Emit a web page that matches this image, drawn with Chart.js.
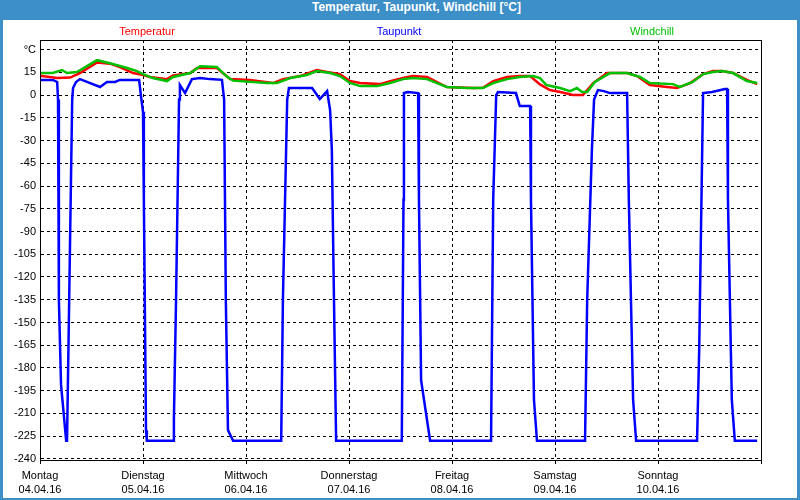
<!DOCTYPE html>
<html>
<head>
<meta charset="utf-8">
<script src="https://cdn.jsdelivr.net/npm/chart.js@4.4.0/dist/chart.umd.min.js"></script>
<style>
    body { margin: 0; }
    #frame { position: relative; width: 800px; height: 500px; background: #3c8fc7; overflow: hidden; }
    #title { position: absolute; left: 312px; top: 0; height: 20px; line-height: 20px; color: #fff; font: bold 12px "Liberation Sans", Arial, sans-serif; white-space: nowrap; }
    #inner { position: absolute; left: 3px; top: 20px; width: 794px; height: 478px; background: #fff; }
    #chart { position: absolute; left: 0; top: 0; }
</style>
</head>
<body>
<div id="frame">
    <div id="title">Temperatur, Taupunkt, Windchill [°C]</div>
    <div id="inner"></div>
    <canvas id="chart" width="800" height="500"></canvas>
</div>
<script>
// hours since Montag 04.04.16 00:00
const tempHours = [0, 4.0, 7.0, 9.3, 13.3, 16.3, 18.6, 21.7, 24.0, 25.6, 29.6, 31.0, 35.0, 36.6, 41.2, 42.6, 44.3, 48.9, 54.3, 56.6, 60.6, 64.5, 66.9, 69.9, 72.2, 74.6, 79.2, 81.6, 84.6, 86.9, 90.2, 92.5, 94.8, 100.9, 103.2, 105.6, 108.8, 111.8, 114.2, 116.5, 118.8, 121.2, 124.2, 126.5, 128.9, 132.1, 136.8, 139.1, 142.1, 146.1, 148.4, 151.5, 154.5, 156.8, 158.9, 161.5, 164.7, 167.1]
const tempValues = [12.8, 11.2, 11.5, 14.5, 21.5, 20.7, 18.5, 14.5, 13.2, 11.9, 10.5, 13.0, 14.5, 17.8, 17.8, 14.5, 10.5, 10.0, 7.9, 10.5, 12.5, 16.5, 15.2, 13.8, 9.2, 7.9, 7.2, 9.2, 11.2, 12.5, 11.9, 8.6, 5.3, 4.6, 4.8, 9.2, 11.9, 12.5, 12.5, 7.0, 3.3, 2.0, 0, 0, 7.9, 14.5, 14.5, 12.5, 6.6, 5.3, 4.6, 7.9, 13.8, 15.8, 15.8, 14.5, 10.0, 7.2]

const chillHours = [0, 3.0, 5.1, 6.3, 8.6, 13.3, 16.3, 20.3, 22.6, 24.0, 26.3, 29.6, 31.0, 35.0, 37.3, 41.2, 43.6, 45.0, 52.9, 55.2, 58.3, 62.2, 64.5, 67.6, 69.9, 72.2, 74.6, 78.6, 81.6, 84.6, 86.9, 90.2, 92.5, 94.8, 99.5, 103.2, 105.6, 108.8, 111.8, 114.9, 116.5, 118.0, 121.2, 123.5, 125.1, 126.3, 127.5, 129.3, 132.8, 136.8, 139.8, 142.1, 147.5, 149.1, 152.1, 154.5, 156.8, 158.9, 161.5, 164.7, 167.1]
const chillValues = [14.5, 14.5, 16.5, 14.5, 15.2, 23, 21, 17.8, 15.8, 13.8, 11.2, 9.2, 11.9, 14.5, 19, 18.5, 12, 9.5, 7.9, 7.9, 11.2, 13.2, 15.8, 14.5, 12.5, 8, 5.9, 5.9, 7.9, 10.5, 11.2, 10.5, 7.9, 5.3, 4.6, 4.6, 7.9, 10.5, 11.9, 12.5, 11.2, 6.6, 4.6, 2.6, 4.6, 2, 2, 8.6, 14.5, 14.5, 11.9, 7.9, 7.2, 5.3, 8.6, 13.8, 15.2, 15.8, 14.5, 9.2, 7.9]

const dewHours = [0, 3.0, 4.0, 4.2, 4.4, 4.9, 6.1, 6.3, 6.8, 7.5, 7.7, 8.4, 9.3, 11.7, 14.0, 15.6, 17.5, 18.6, 23.1, 23.5, 24.0, 24.2, 24.7, 24.9,
    31.0, 31.2, 31.7, 32.4, 32.6, 33.8, 35.4, 37.3, 39.6, 42.4, 42.9, 43.3, 43.8, 45.0,
    56.2, 56.6, 57.6, 58.0, 63.4, 65.2, 66.9, 67.6, 68.0, 68.5, 69.0,
    84.3, 84.7, 84.8, 85.7, 88.1, 88.3, 88.8, 90.9,
    105.1, 105.6, 106.3, 106.7, 110.9, 111.8, 114.2, 114.4, 115.1, 115.8,
    127.0, 127.5, 128.6, 129.1, 130.0, 131.4, 132.8, 136.8, 137.2, 138.2, 138.9,
    153.1, 153.6, 154.3, 154.5, 156.6, 159.6, 160.1, 160.3, 161.2, 161.9, 167.1]
const dewValues = [10, 10, 8.6, -3, -135, -191, -228, -228, -135, -3, 4.6, 8.6, 10.5, 7.9, 5.3, 8.6, 8.6, 10, 10, 0, -11, -69, -221, -228,
    -228, -214, -135, -3, 6.6, 1.3, 10.5, 11.2, 10.5, 10, -3, -135, -221, -228,
    -228, -135, -3, 4.6, 4.6, -2.6, 2.6, -10, -36, -135, -228,
    -228, -69, 1.3, 2, 1.3, -69, -188, -228,
    -228, -69, 0, 2, 1.3, -7.3, -7.3, -69, -201, -228,
    -228, -135, -36, -3, 3.3, 2.6, 1.3, 1.3, -69, -201, -228,
    -228, -168, -36, 1.3, 2, 4, 4, -69, -201, -228, -228]

const dayNames = ["Montag", "Dienstag", "Mittwoch", "Donnerstag", "Freitag", "Samstag", "Sonntag"]
const dayDates = ["04.04.16", "05.04.16", "06.04.16", "07.04.16", "08.04.16", "09.04.16", "10.04.16"]
const yTicks = [30, 15, 0, -15, -30, -45, -60, -75, -90, -105, -120, -135, -150, -165, -180, -195, -210, -225, -240]

function points(hours, values) {
    return hours.map((h, i) => ({ x: h, y: values[i] }))
}

const FONT = { family: '"Liberation Sans", Arial, sans-serif', size: 11 }

// own legend: three coloured labels above the plot
const legendText = {
    id: 'legendText',
    afterDraw(chart) {
        const ctx = chart.ctx
        const xs = [147, 399, 652]
        ctx.save()
        ctx.font = '11px ' + FONT.family
        ctx.textAlign = 'center'
        ctx.textBaseline = 'middle'
        chart.data.datasets.forEach((ds, i) => {
            ctx.fillStyle = ds.borderColor
            ctx.fillText(ds.label, xs[i], 32)
        })
        ctx.restore()
    }
}

// closed black frame round the plot
const plotFrame = {
    id: 'plotFrame',
    afterDraw(chart) {
        const a = chart.chartArea
        const ctx = chart.ctx
        ctx.save()
        ctx.strokeStyle = '#000'
        ctx.lineWidth = 1
        ctx.strokeRect(Math.round(a.left) + 0.5, Math.round(a.top) + 0.5, Math.round(a.right - a.left), Math.round(a.bottom - a.top))
        ctx.restore()
    }
}

function main() {
    const ctx = document.getElementById("chart")

    new Chart(ctx, {
        type: "line",
        data: {
            datasets: [
                { label: "Temperatur", data: points(tempHours, tempValues), borderColor: "#ff0000", borderWidth: 2.5, order: 2 },
                { label: "Taupunkt", data: points(dewHours, dewValues), borderColor: "#0000ff", borderWidth: 2.5, order: 3 },
                { label: "Windchill", data: points(chillHours, chillValues), borderColor: "#00c000", borderWidth: 2.5, order: 1 },
            ],
        },
        options: {
            responsive: false,
            animation: false,
            devicePixelRatio: 1,
            elements: { point: { radius: 0 }, line: { tension: 0, fill: false } },
            layout: { padding: { left: 0, top: 40, right: 39, bottom: 0 } },
            plugins: { legend: { display: false }, tooltip: { enabled: false }, title: { display: false } },
            scales: {
                x: {
                    type: "linear",
                    min: 0,
                    max: 168,
                    afterBuildTicks: s => { s.ticks = [0, 24, 48, 72, 96, 120, 144, 168].map(v => ({ value: v })) },
                    afterFit: s => { s.height = 40; s.paddingLeft = 0; s.paddingRight = 0 },
                    ticks: {
                        color: "#000",
                        font: { ...FONT, lineHeight: 1.3 },
                        padding: 5,
                        maxRotation: 0,
                        autoSkip: false,
                        callback: v => { const i = v / 24; return i < dayNames.length ? [dayNames[i], dayDates[i]] : "" },
                    },
                    grid: { color: "#000", lineWidth: 1, tickLength: 4, tickColor: "#000", tickBorderDash: [3, 3] },
                    border: { color: "#000", width: 1, dash: [3, 3] },
                },
                y: {
                    min: -240.7,
                    max: 36.3,
                    afterBuildTicks: s => { s.ticks = yTicks.map(v => ({ value: v })) },
                    afterFit: s => { s.width = 40; s.paddingTop = 0; s.paddingBottom = 0 },
                    ticks: {
                        color: "#000",
                        font: FONT,
                        padding: 4,
                        autoSkip: false,
                        callback: v => v === 30 ? "°C" : String(v),
                    },
                    grid: { color: "#000", lineWidth: 1, drawTicks: false },
                    border: { color: "#000", width: 1, dash: [3, 3] },
                },
            },
        },
        plugins: [legendText, plotFrame],
    })
}

document.addEventListener("DOMContentLoaded", main)
</script>
</body>
</html>
